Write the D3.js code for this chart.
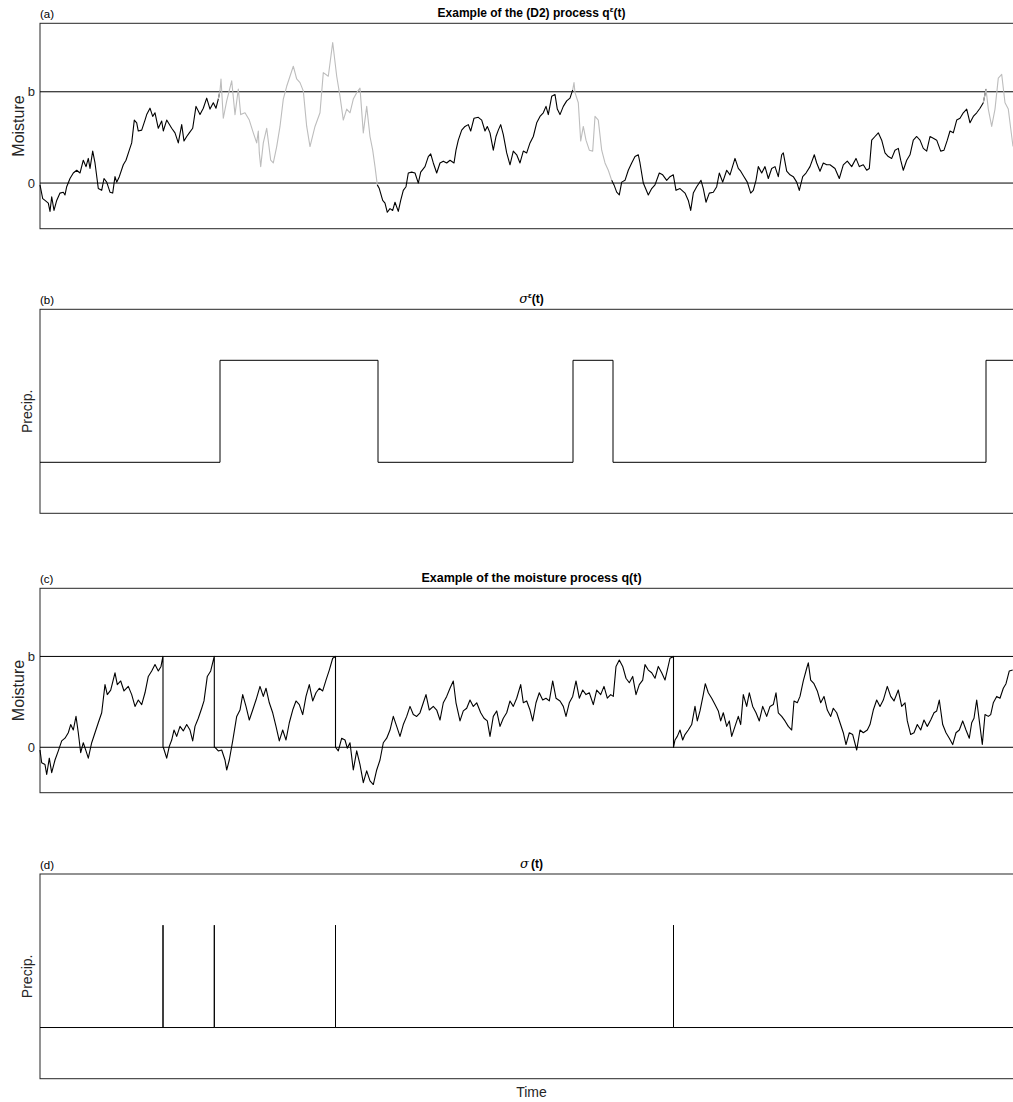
<!DOCTYPE html>
<html>
<head>
<meta charset="utf-8">
<script src="https://cdn.jsdelivr.net/npm/d3@7"></script>
<style>
  body { margin: 0; background: #fff; }
  svg { display: block; font-family: "Liberation Sans", Arial, Helvetica, sans-serif; }
</style>
</head>
<body>
<svg id="fig" width="1013" height="1102"></svg>
<script>
// time runs 0..983 across every panel
const timeEnd = 983;

// (a) the (D2) process q^eps(t) (0 = dry line, 1 = b)
const qEpsTime = [
  0, 2.7, 5, 8.3, 10, 11.7, 14, 16.7, 20, 23.3, 25, 26.7, 30, 33.3, 36.7, 40, 43.3, 46, 48.3, 50,
  52.7, 55, 58.3, 61.7, 64, 66.7, 70, 72.7, 75, 76.7, 79.3, 83.3, 86, 89.3, 91.7, 94.3, 96.7, 98.3, 101.7, 105,
  106.7, 110, 112.7, 115, 118.3, 121.7, 123.3, 126.7, 131.7, 135, 138.3, 141.7, 144, 146.7, 149.3, 152.7, 156, 160, 163.3, 166.7,
  170, 173.3, 176, 178.3, 180,
  181, 183.3, 186.7, 191.7, 195, 198.3, 200.7, 205, 209.3, 213.3, 216.7, 218.3, 219.3, 220.7, 223.3, 226.7, 230.7, 233.3, 236.7, 240,
  243.3, 246.7, 250, 253.3, 256.7, 260, 263.3, 266.7, 270, 275, 280, 283.3, 288.3, 292.7, 296.7, 300, 303.3, 306.7, 310, 313.3,
  316.7, 320, 323.3, 326.7, 330, 332.7, 335, 337.3,
  339.3, 342.7, 345, 347.3, 350, 352.7, 355, 358.3, 360.7, 363.3, 366, 368.3, 371.7, 375, 378.3, 380.7, 385, 388.3, 390.7, 393.3,
  396.7, 400, 403.3, 406.7, 410, 414, 416, 418.3, 421.7, 425, 428.3, 430.7, 434, 438.3, 441.7, 445, 447.3, 450, 453.3, 456,
  458.3, 460.7, 463.3, 466.7, 470, 473.3, 476.7, 480, 483.3, 486.7, 490, 493.3, 496.7, 500, 503.3, 506, 508.3, 511.7, 515, 517.3,
  520, 523.3, 526.7, 530, 532.7,
  534, 535, 538.3, 540.7, 543.3, 546, 549.3, 552.7, 555, 558.3, 561.7, 565, 568.3, 571.7,
  574, 576.7, 579.3, 581.7, 585, 588.3, 591.7, 595, 598.3, 600, 603.3, 608.3, 611.7, 615, 619.3, 622.7, 626.7, 630, 633.3, 636,
  640, 645, 648.3, 650.7, 653.3, 656.7, 661, 663.3, 666, 669.3, 673.3, 676.7, 679.3, 682.7, 686.7, 690, 695, 698.3, 700.7, 704,
  707.3, 710.7, 713.3, 716, 718.3, 721.7, 725, 728.3, 731.7, 735, 738.3, 741.7, 743.3, 746.7, 750, 753.3, 756.7, 759.3, 762.7, 766,
  770, 774.3, 776.7, 780, 783.3, 786.7, 790, 795, 799.3, 803.3, 807.3, 811.7, 816, 819.3, 823.3, 826.7, 829.3, 831.7, 835, 838.3,
  841.7, 845, 848.3, 851.7, 855, 858.3, 860.7, 863.3, 866.7, 870, 873.3, 876.7, 880, 883.3, 886.7, 890, 893.3, 896.7, 900.7, 904,
  907.3, 910, 913.3, 916.7, 920, 923.3, 926.7, 930, 933.3, 936.7, 940, 943.3, 946,
  948.3, 951.7, 955, 958.3, 961.7, 965, 968.3, 970.7, 973
];
const qEpsValue = [
  -0.02, -0.17, -0.19, -0.22, -0.31, -0.15, -0.30, -0.19, -0.11, -0.10, -0.13, -0.04, 0.05, 0.11, 0.14, 0.11, 0.25, 0.18, 0.27, 0.16,
  0.35, 0.22, -0.06, -0.08, 0.05, 0.01, -0.10, -0.11, 0.07, 0.01, 0.07, 0.20, 0.25, 0.36, 0.44, 0.69, 0.66, 0.57, 0.58, 0.69,
  0.75, 0.82, 0.73, 0.77, 0.60, 0.68, 0.57, 0.69, 0.60, 0.55, 0.44, 0.64, 0.46, 0.51, 0.55, 0.60, 0.84, 0.75, 0.82, 0.93,
  0.81, 0.88, 0.82, 0.92, 1.01,
  1.14, 0.71, 0.90, 1.12, 0.75, 1.03, 0.75, 0.77, 0.69, 0.55, 0.44, 0.57, 0.33, 0.18, 0.44, 0.60, 0.25, 0.22, 0.40, 0.62,
  0.92, 1.06, 1.17, 1.28, 1.14, 1.10, 1.01, 0.62, 0.40, 0.62, 0.77, 1.21, 1.17, 1.54, 1.17, 0.95, 0.69, 0.81, 0.77, 0.92,
  0.99, 1.04, 0.55, 0.84, 0.51, 0.36, 0.18, -0.02,
  -0.06, -0.19, -0.22, -0.32, -0.28, -0.30, -0.21, -0.31, -0.19, -0.08, -0.04, 0.11, 0.12, 0.11, 0.00, 0.12, 0.18, 0.29, 0.32, 0.22,
  0.11, 0.22, 0.24, 0.22, 0.25, 0.22, 0.36, 0.47, 0.58, 0.62, 0.64, 0.57, 0.71, 0.72, 0.69, 0.57, 0.62, 0.55, 0.36, 0.51,
  0.58, 0.64, 0.53, 0.33, 0.20, 0.35, 0.31, 0.22, 0.35, 0.33, 0.44, 0.51, 0.66, 0.73, 0.77, 0.84, 0.75, 0.95, 0.97, 0.81,
  0.75, 0.84, 0.90, 0.93, 1.02,
  1.10, 0.99, 0.88, 0.46, 0.62, 0.47, 0.36, 0.35, 0.73, 0.69, 0.36, 0.22, 0.14, 0.03,
  -0.02, -0.10, -0.13, 0.01, 0.03, 0.14, 0.22, 0.29, 0.31, 0.22, 0.00, -0.13, -0.06, -0.02, 0.11, 0.09, 0.03, 0.07, 0.09, -0.08,
  -0.06, -0.11, -0.19, -0.30, -0.11, -0.04, 0.03, -0.06, -0.21, -0.11, -0.10, -0.04, 0.11, 0.01, 0.14, 0.09, 0.27, 0.16, 0.13, 0.07,
  0.01, -0.11, -0.08, 0.03, 0.18, 0.11, 0.18, 0.05, 0.16, 0.18, 0.07, 0.31, 0.33, 0.13, 0.09, 0.07, 0.01, -0.08, 0.07, 0.11,
  0.18, 0.31, 0.22, 0.13, 0.22, 0.20, 0.20, 0.16, 0.05, 0.20, 0.24, 0.18, 0.27, 0.18, 0.20, 0.14, 0.16, 0.47, 0.51, 0.55,
  0.47, 0.33, 0.29, 0.27, 0.36, 0.38, 0.25, 0.14, 0.25, 0.31, 0.47, 0.51, 0.47, 0.38, 0.35, 0.51, 0.49, 0.47, 0.35, 0.36,
  0.47, 0.57, 0.55, 0.69, 0.71, 0.77, 0.81, 0.66, 0.73, 0.77, 0.82, 0.88, 1.03,
  0.81, 0.62, 0.81, 1.15, 1.19, 0.88, 0.81, 0.60, 0.40
];

// (b) sigma^eps(t): switching times and the level held until the next switch
const sigmaEpsTime = [0, 180, 338, 533, 573, 946];
const sigmaEpsLevel = [0, 1, 0, 1, 0, 1];

// (c) the moisture process q(t), reset to 0 whenever it reaches b
const qTime = [
  0, 1.7, 5, 6.7, 9.3, 11.7, 15, 18.3, 21.7, 25, 28.3, 30.7, 33.3, 36, 38.3, 40.7, 43.3, 46, 48.3, 51.7,
  55, 58.3, 61.7, 65, 67.3, 70.7, 75, 77.3, 80.7, 84, 88.3, 91.7, 95, 98.3, 101.7, 105, 108.3, 111.7, 115, 118.3,
  121, 122.7, 123, 123,
  123.3, 126.7, 129.3, 131.7, 134, 136.7, 140, 143.3, 146.7, 150, 152.7, 155, 158.3, 161.7, 164, 167.3, 170.7, 174, 174.3, 174.3,
  175, 178.3, 181.7, 185, 186.7, 189.3, 192.7, 196.7, 200, 202.7, 206, 209.3, 212.7, 216, 220, 223.3, 226, 229.3, 232.7, 236,
  239.3, 242.7, 246, 249.3, 252.7, 256, 259.3, 262.7, 266, 269.3, 272.7, 276, 279.3, 282.7, 286, 289.3, 292.7, 295.5, 295.5,
  298.3, 301.7, 305, 307.3, 310, 313.3, 316.7, 320, 323.3, 326.7, 330, 333.3, 336.7, 340, 343.3, 346.7, 350, 353.3, 356.7, 360,
  363.3, 366.7, 370, 373.3, 376.7, 380, 383.3, 386, 389.3, 393.3, 396.7, 400, 403.3, 406.7, 410, 413.3, 416, 420, 423.3, 426.7,
  430, 433.3, 436.7, 440.7, 444, 447.3, 450, 453.3, 456.7, 460, 463.3, 466.7, 470, 473.3, 476.7, 480.7, 483.3, 486.7, 490, 492.7,
  496, 499.3, 502.7, 506, 509.3, 512.7, 516, 520, 523.3, 526, 529.3, 532.7, 536, 539.3, 542.7, 546, 549.3, 553.3, 556.7, 560.7,
  564, 567.3, 570.7, 573.3, 576, 579.3, 582.7, 586, 589.3, 592.7, 596, 599.3, 602.7, 605, 608.3, 611.7, 615, 618.3, 621.7, 625,
  627.3, 630, 633.5, 633.5,
  635, 637.3, 640, 642.7, 645, 648.3, 651.7, 655, 657.3, 660, 663.3, 665.3, 668.3, 671.7, 675, 678.3, 680.7, 683.3, 686.7, 689.3,
  691.7, 695, 698.3, 700.7, 703.3, 706.7, 709.3, 712.7, 716, 719.3, 722.7, 726.7, 730, 733.3, 736, 738.3, 741.7, 745, 748.3, 751.7,
  754, 757.3, 760, 763.3, 766.7, 768.3, 770.7, 774, 777.3, 780.7, 784, 787.3, 790.7, 793.3, 796.7, 800, 803.3, 806, 809.3, 812.7,
  816.7, 820, 823.3, 827.3, 830, 833.3, 836.7, 840, 843.3, 847.3, 850.7, 854, 858.3, 861.7, 865, 867.3, 870.7, 874, 877.3, 880.7,
  884, 887.3, 890.7, 894, 896.7, 899.3, 902.7, 906, 909.3, 912.7, 916, 919.3, 922.7, 926, 929.3, 931.7, 934, 936.7, 940, 942.3,
  945, 948.3, 950.7, 953.3, 956.7, 960, 963.3, 966, 969.3, 972.7
];
const qValue = [
  -0.03, -0.17, -0.19, -0.30, -0.12, -0.28, -0.14, -0.04, 0.07, 0.10, 0.16, 0.25, 0.19, 0.34, 0.16, -0.06, 0.05, -0.04, -0.12, 0.05,
  0.16, 0.27, 0.38, 0.69, 0.58, 0.63, 0.82, 0.69, 0.73, 0.62, 0.67, 0.58, 0.45, 0.52, 0.47, 0.60, 0.78, 0.84, 0.91, 0.84,
  0.89, 0.99, 1.00, 0.00,
  0.00, -0.12, 0.01, 0.08, 0.19, 0.12, 0.23, 0.18, 0.25, 0.19, 0.07, 0.23, 0.32, 0.43, 0.51, 0.78, 0.84, 0.99, 1.00, 0.00,
  0.00, -0.04, -0.03, -0.14, -0.25, -0.14, 0.07, 0.34, 0.41, 0.58, 0.45, 0.30, 0.41, 0.52, 0.67, 0.56, 0.65, 0.49, 0.38, 0.23,
  0.07, 0.19, 0.08, 0.27, 0.41, 0.51, 0.47, 0.36, 0.56, 0.69, 0.51, 0.60, 0.65, 0.62, 0.74, 0.85, 0.98, 1.00, 0.00,
  -0.04, 0.10, 0.08, -0.01, 0.05, -0.25, -0.04, -0.19, -0.39, -0.26, -0.37, -0.41, -0.25, -0.14, 0.05, 0.10, 0.19, 0.34, 0.23, 0.12,
  0.25, 0.34, 0.45, 0.36, 0.34, 0.38, 0.49, 0.58, 0.41, 0.45, 0.41, 0.30, 0.49, 0.56, 0.65, 0.73, 0.49, 0.29, 0.40, 0.43,
  0.52, 0.45, 0.49, 0.38, 0.32, 0.29, 0.12, 0.34, 0.40, 0.23, 0.32, 0.38, 0.51, 0.45, 0.54, 0.69, 0.49, 0.51, 0.41, 0.29,
  0.49, 0.60, 0.52, 0.54, 0.51, 0.73, 0.54, 0.51, 0.45, 0.34, 0.49, 0.56, 0.73, 0.54, 0.63, 0.58, 0.60, 0.47, 0.63, 0.58,
  0.67, 0.54, 0.58, 0.56, 0.89, 0.96, 0.89, 0.76, 0.71, 0.78, 0.58, 0.69, 0.74, 0.91, 0.85, 0.82, 0.76, 0.89, 0.82, 0.74,
  0.85, 0.98, 1.00, 0.00,
  0.08, 0.12, 0.19, 0.08, 0.14, 0.19, 0.25, 0.45, 0.29, 0.40, 0.58, 0.70, 0.60, 0.54, 0.47, 0.40, 0.29, 0.38, 0.23, 0.29,
  0.12, 0.23, 0.34, 0.25, 0.58, 0.45, 0.60, 0.45, 0.38, 0.29, 0.45, 0.34, 0.45, 0.47, 0.60, 0.38, 0.34, 0.29, 0.23, 0.19,
  0.51, 0.49, 0.56, 0.73, 0.87, 0.93, 0.74, 0.70, 0.62, 0.49, 0.56, 0.41, 0.34, 0.43, 0.38, 0.27, 0.16, 0.03, 0.16, 0.14,
  -0.03, 0.19, 0.16, 0.19, 0.25, 0.41, 0.52, 0.45, 0.52, 0.67, 0.56, 0.51, 0.63, 0.45, 0.49, 0.29, 0.14, 0.16, 0.25, 0.19,
  0.30, 0.23, 0.30, 0.38, 0.40, 0.52, 0.25, 0.16, 0.10, 0.03, 0.16, 0.19, 0.29, 0.19, 0.10, 0.27, 0.32, 0.52, 0.23, 0.03,
  0.36, 0.34, 0.36, 0.49, 0.56, 0.54, 0.65, 0.70, 0.84, 0.85
];

// (d) sigma(t): rain falls only at the instants q hits b
const rainTimes = [123, 174.3, 295.5, 633.5];

const moistTicks = [0, 1];
const moistTickLabels = ['0', 'b'];

const svg = d3.select('#fig');
const axisColor = '#262626';

const x = d3.scaleLinear().domain([0, timeEnd]).range([40, 1023]);

function makePanel(top, bottom, yDomain) {
  const y = d3.scaleLinear().domain(yDomain).range([bottom, top]);
  const g = svg.append('g');
  g.append('rect')
    .attr('x', x(0)).attr('y', top)
    .attr('width', x(timeEnd) - x(0)).attr('height', bottom - top)
    .attr('fill', 'none').attr('stroke', axisColor).attr('stroke-width', 1);
  return { g, y, top, bottom };
}

function addLetter(p, letter) {
  svg.append('text')
    .attr('x', 40).attr('y', p.top - 5)
    .attr('font-size', 11.5).attr('fill', '#000')
    .text(letter);
}

function addYLabel(p, label, xPos, size) {
  const mid = (p.top + p.bottom) / 2;
  svg.append('text')
    .attr('transform', 'translate(' + xPos + ',' + mid + ') rotate(-90)')
    .attr('text-anchor', 'middle')
    .attr('font-size', size).attr('fill', axisColor)
    .text(label);
}

function addMoistureAxis(p) {
  p.g.append('g')
    .attr('transform', 'translate(' + x(0) + ',0)')
    .call(d3.axisLeft(p.y).tickValues(moistTicks)
      .tickFormat((d, i) => moistTickLabels[i]).tickSize(0).tickPadding(5))
    .call(a => a.select('.domain').remove())
    .selectAll('text')
    .attr('font-size', 13).attr('fill', axisColor)
    .attr('font-family', '"Liberation Sans", Arial, sans-serif');

  p.g.selectAll('.level')
    .data(moistTicks)
    .enter()
    .append('line')
    .attr('class', 'level')
    .attr('x1', x(0)).attr('x2', x(timeEnd))
    .attr('y1', d => p.y(d)).attr('y2', d => p.y(d))
    .attr('stroke', '#000').attr('stroke-width', 1);
}

const midX = (x(0) + x(timeEnd)) / 2;

// ---------- (a)
const pa = makePanel(23.3, 228.7, [-0.5, 1.75]);
addMoistureAxis(pa);
const qEps = qEpsTime.map((t, i) => [t, qEpsValue[i]]);
const lineA = d3.line().x(d => x(d[0])).y(d => pa.y(d[1]));
sigmaEpsTime.forEach((t0, i) => {
  const t1 = i + 1 < sigmaEpsTime.length ? sigmaEpsTime[i + 1] : timeEnd;
  const seg = qEps.filter(d => d[0] >= t0 && d[0] <= t1);
  const before = qEps.filter(d => d[0] < t0);
  if (before.length) seg.unshift(before[before.length - 1]);
  pa.g.append('path')
    .datum(seg)
    .attr('d', lineA)
    .attr('fill', 'none')
    .attr('stroke', sigmaEpsLevel[i] ? '#bdbdbd' : '#000')
    .attr('stroke-width', 1.1)
    .attr('stroke-linejoin', 'round');
});
addLetter(pa, '(a)');
addYLabel(pa, 'Moisture', 24, 16);
const ta = svg.append('text').attr('x', midX).attr('y', pa.top - 6)
  .attr('text-anchor', 'middle').attr('font-size', 12).attr('font-weight', 'bold');
ta.append('tspan').text('Example of the (D2) process q');
ta.append('tspan').attr('font-size', 8).attr('dy', -5).text('\u03B5');
ta.append('tspan').attr('dy', 5).text('(t)');

// ---------- (b)
const pb = makePanel(309.3, 513.3, [-0.5, 1.5]);
const stepB = sigmaEpsTime.map((t, i) => [t, sigmaEpsLevel[i]]);
stepB.push([timeEnd, sigmaEpsLevel[sigmaEpsLevel.length - 1]]);
pb.g.append('path')
  .datum(stepB)
  .attr('d', d3.line().curve(d3.curveStepAfter).x(d => x(d[0])).y(d => pb.y(d[1])))
  .attr('fill', 'none').attr('stroke', '#000').attr('stroke-width', 1);
addLetter(pb, '(b)');
addYLabel(pb, 'Precip.', 32, 14);
const tb = svg.append('text').attr('x', midX).attr('y', pb.top - 6)
  .attr('text-anchor', 'middle').attr('font-size', 12).attr('font-weight', 'bold');
tb.append('tspan').attr('font-style', 'italic').attr('font-weight', 'normal')
  .attr('font-family', '"DejaVu Serif", serif').attr('font-size', 13).text('\u03C3');
tb.append('tspan').attr('font-size', 8).attr('dy', -5).text('\u03B5');
tb.append('tspan').attr('dy', 5).text('(t)');

// ---------- (c)
const pc = makePanel(588.3, 792.7, [-0.5, 1.75]);
addMoistureAxis(pc);
const q = qTime.map((t, i) => [t, qValue[i]]);
pc.g.append('path')
  .datum(q)
  .attr('d', d3.line().x(d => x(d[0])).y(d => pc.y(d[1])))
  .attr('fill', 'none').attr('stroke', '#000').attr('stroke-width', 1.1)
  .attr('stroke-linejoin', 'round');
addLetter(pc, '(c)');
addYLabel(pc, 'Moisture', 24, 16);
svg.append('text').attr('x', midX).attr('y', pc.top - 6)
  .attr('text-anchor', 'middle').attr('font-size', 12.5).attr('font-weight', 'bold')
  .text('Example of the moisture process q(t)');

// ---------- (d)
const pd = makePanel(874, 1078.7, [-0.5, 1.5]);
const spikes = [[0, 0]];
rainTimes.forEach(t => { spikes.push([t, 0], [t, 1], [t, 0]); });
spikes.push([timeEnd, 0]);
pd.g.append('path')
  .datum(spikes)
  .attr('d', d3.line().x(d => x(d[0])).y(d => pd.y(d[1])))
  .attr('fill', 'none').attr('stroke', '#000').attr('stroke-width', 1);
addLetter(pd, '(d)');
addYLabel(pd, 'Precip.', 32, 14);
const td = svg.append('text').attr('x', midX).attr('y', pd.top - 6)
  .attr('text-anchor', 'middle').attr('font-size', 12).attr('font-weight', 'bold');
td.append('tspan').attr('font-style', 'italic').attr('font-weight', 'normal')
  .attr('font-family', '"DejaVu Serif", serif').attr('font-size', 13).text('\u03C3');
td.append('tspan').attr('dx', 2).text('(t)');

svg.append('text').attr('x', midX).attr('y', 1096.5)
  .attr('text-anchor', 'middle').attr('font-size', 14).attr('fill', axisColor)
  .text('Time');
</script>
</body>
</html>
